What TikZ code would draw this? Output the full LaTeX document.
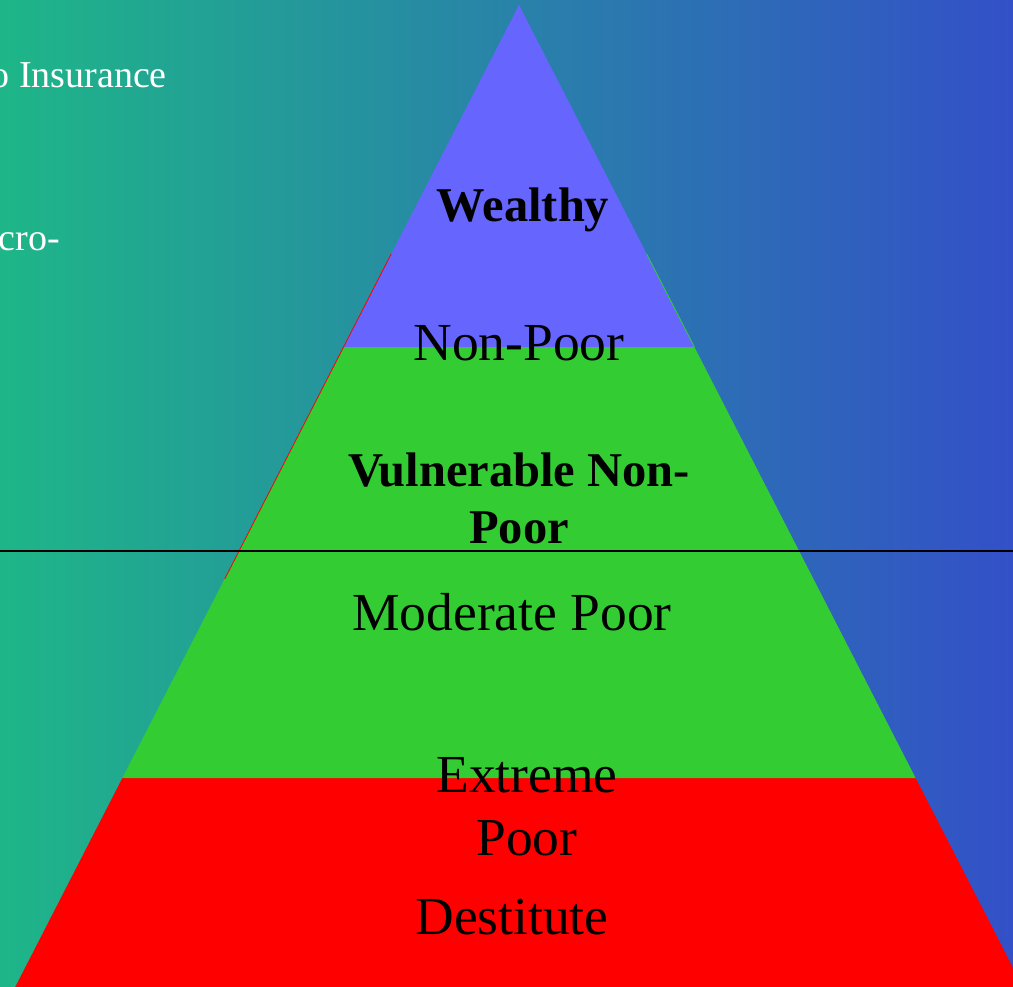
\documentclass[tikz,border=0pt]{standalone}
\usepackage{fontspec}
\setmainfont{Liberation Serif}
\definecolor{bgleft}{RGB}{30,182,136}
\definecolor{bgright}{RGB}{51,80,200}
\definecolor{tierblue}{RGB}{102,102,255}
\definecolor{tiergreen}{RGB}{51,204,51}
\definecolor{tierred}{RGB}{255,0,0}
\tikzset{
  tierlabel/.style={anchor=base, inner sep=0pt, font=\fontsize{53.5}{60}\selectfont, text=black, align=center},
  tierbold/.style={tierlabel, font=\fontsize{48.5}{57}\bfseries\selectfont},
  sidelabel/.style={anchor=base east, inner sep=0pt, font=\fontsize{38}{44}\selectfont, text=white},
}
\begin{document}
\begin{tikzpicture}[x=1pt,y=-1pt]
  \useasboundingbox (0,0) rectangle (1013,987);
  \clip (0,0) rectangle (1013,987);
  % background
  \shade[left color=bgleft, right color=bgright] (0,0) rectangle (1013,987);
  % pyramid corners
  \coordinate (apex) at (519,5);
  \coordinate (l1) at (343.6,347);
  \coordinate (r1) at (694.4,347);
  \coordinate (l2) at (122.4,778);
  \coordinate (r2) at (915.6,778);
  \coordinate (l3) at (15.2,987);
  \coordinate (r3) at (1022.8,987);
  % tiers
  \fill[tierred] (l2) -- (r2) -- (r3) -- (l3) -- cycle;
  \fill[tiergreen] (l1) -- (r1) -- (r2) -- (l2) -- cycle;
  \fill[tierblue] (apex) -- (r1) -- (l1) -- cycle;
  % fine edge lines of the lower layers
  \coordinate (le1) at (391.2,254);
  \coordinate (le2) at (224.7,579);
  \coordinate (re1) at (646.7,254);
  \draw[tierred, line width=0.8pt] (le1) -- (le2);
  \draw[tiergreen, line width=0.8pt] (re1) -- (r1);
  % poverty line
  \coordinate (pl) at (0,551);
  \coordinate (pr) at (1013,551);
  \draw[black, line width=2pt] (pl) -- (pr);
  % tier labels
  \node[tierbold] (wealthy) at (523,222) {Wealthy};
  \node[tierlabel] (nonpoor) at (519,360) {Non-Poor};
  \node[tierbold] (vuln) at (519,486) {Vulnerable Non-};
  \node[tierbold] (vulnpoor) at (519,543) {Poor};
  \node[tierlabel] (moderate) at (512,630) {Moderate Poor};
  \node[tierlabel] (extreme) at (527,792) {Extreme};
  \node[tierlabel] (extremepoor) at (527,855) {Poor};
  \node[tierlabel] (destitute) at (512,934) {Destitute};
  % side notes
  \node[sidelabel] (insurance) at (167,88) {o Insurance};
  \node[sidelabel] (micro) at (60,251) {cro-};
\end{tikzpicture}
\end{document}
